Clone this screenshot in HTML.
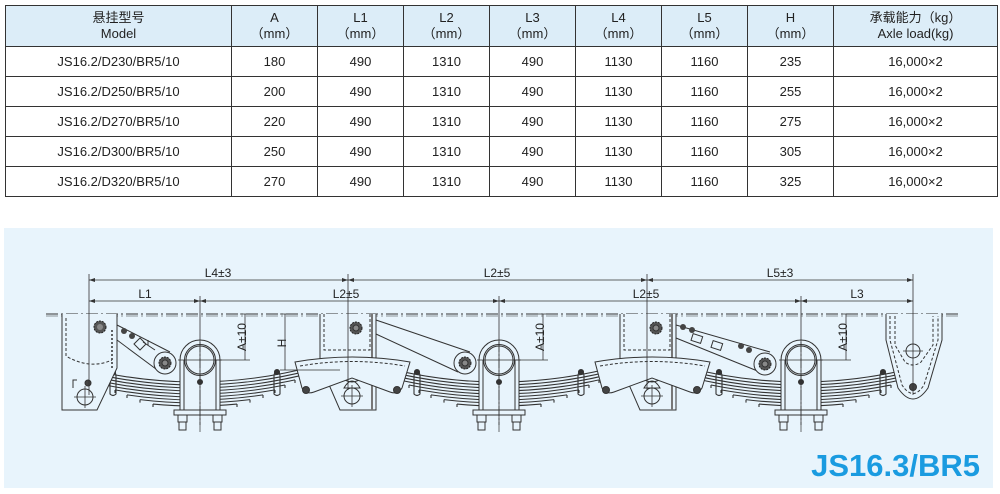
<!DOCTYPE html>
<html><head><meta charset="utf-8"><style>
body{margin:0;width:1000px;height:494px;background:#fff;position:relative;overflow:hidden;font-family:"Liberation Sans","Noto Sans CJK SC",sans-serif;}
table{position:absolute;left:5px;top:5px;border-collapse:collapse;font-size:13px;color:#222;}
td{border:1.5px solid #333;text-align:center;padding:0;height:29px;}
tr.h td{background:#dcedf8;height:40px;line-height:16px;}
#panel{position:absolute;left:4px;top:228px;width:989px;height:260px;background:#e8f4fc;}
svg{position:absolute;left:0;top:0;}
.t{font-family:"Liberation Sans",sans-serif;font-size:12px;fill:#222;}
</style></head><body>
<table>
<colgroup><col style="width:226px"><col style="width:86px"><col style="width:86px"><col style="width:86px"><col style="width:86px"><col style="width:86px"><col style="width:86px"><col style="width:86px"><col style="width:164px"></colgroup>
<tr class="h"><td>悬挂型号<br>Model</td><td>A<br>（mm）</td><td>L1<br>（mm）</td><td>L2<br>（mm）</td><td>L3<br>（mm）</td><td>L4<br>（mm）</td><td>L5<br>（mm）</td><td>H<br>（mm）</td><td>承载能力（kg）<br>Axle load(kg)</td></tr>
<tr><td>JS16.2/D230/BR5/10</td><td>180</td><td>490</td><td>1310</td><td>490</td><td>1130</td><td>1160</td><td>235</td><td>16,000×2</td></tr>
<tr><td>JS16.2/D250/BR5/10</td><td>200</td><td>490</td><td>1310</td><td>490</td><td>1130</td><td>1160</td><td>255</td><td>16,000×2</td></tr>
<tr><td>JS16.2/D270/BR5/10</td><td>220</td><td>490</td><td>1310</td><td>490</td><td>1130</td><td>1160</td><td>275</td><td>16,000×2</td></tr>
<tr><td>JS16.2/D300/BR5/10</td><td>250</td><td>490</td><td>1310</td><td>490</td><td>1130</td><td>1160</td><td>305</td><td>16,000×2</td></tr>
<tr><td>JS16.2/D320/BR5/10</td><td>270</td><td>490</td><td>1310</td><td>490</td><td>1130</td><td>1160</td><td>325</td><td>16,000×2</td></tr>
</table>
<div id="panel"></div>
<svg width="1000" height="494" viewBox="0 0 1000 494">
<defs>
<g id="spring" fill="none" stroke="#333" stroke-width="1.1">
<path d="M-120,-16 Q0,16 120,-16"/><path d="M-115,-11.7 Q0,17.7 115,-11.7"/><path d="M-108,-6.96 Q0,18.96 108,-6.96"/><path d="M-100,-2.11 Q0,20.11 100,-2.11"/><path d="M-90,3 Q0,21 90,3"/><path d="M-80,7.89 Q0,22.11 80,7.89"/><path d="M-68,12.86 Q0,23.14 68,12.86"/><path d="M-55,17.64 Q0,24.36 55,17.64"/><path d="M-42,22.04 Q0,25.96 42,22.04"/>
<path d="M-120,-16 L-120,-13 M-115,-11.7 v3 M-108,-7 v3 M-100,-2 v3 M-90,3 v3 M-80,8 v3 M-68,13 v3 M-55,17.6 v3 M-42,22 v3 M120,-16 v3 M115,-11.7 v3 M108,-7 v3 M100,-2 v3 M90,3 v3 M80,8 v3 M68,13 v3 M55,17.6 v3 M42,22 v3"/>
<path d="M-82,-10 q-3,0 -3,4 v18 q3,3 6,0 v-18 q0,-4 -3,-4 M82,-10 q3,0 3,4 v18 q-3,3 -6,0 v-18 q0,-4 3,-4"/>
<circle cx="-82" cy="-10" r="2.5" fill="#333"/><circle cx="82" cy="-10" r="2.5" fill="#333"/>
</g>
<g id="axle" fill="none" stroke="#333" stroke-width="1">
<path d="M-20,30 V-22 A20,20 0 0 1 20,-22 V30" fill="#e8f4fc"/>
<circle cx="0" cy="-22" r="14"/><circle cx="0" cy="-22" r="15.5"/>
<path d="M-16,-22 V30 M16,-22 V30"/>
<rect x="-26" y="28" width="52" height="5" fill="#e8f4fc"/>
<rect x="-22" y="33" width="9" height="7"/><rect x="-21" y="40" width="7" height="8"/>
<rect x="13" y="33" width="9" height="7"/><rect x="14" y="40" width="7" height="8"/>
<path d="M0,-40 V50" stroke-dasharray="10,2,2,2" stroke-width="0.7"/>
<path d="M-22,-22 H22" stroke-width="0.7"/>
<circle cx="0" cy="0" r="2.5" fill="#333"/>
</g>
<g id="bolt"><circle r="6" fill="#555" stroke="#222" stroke-width="1" stroke-dasharray="2,1"/><circle r="3" fill="#888"/></g>
<g id="bush" fill="none" stroke="#333" stroke-width="1"><circle r="11" fill="#e8f4fc"/><use href="#bolt"/></g>
<g id="eq" fill="#e8f4fc" stroke="#333" stroke-width="1">
<path d="M-57,-8 Q0,-18 58,-8 L50,18 Q46,25 38,22 L0,8 L-38,22 Q-46,25 -50,18 Z"/>
<path d="M-52,-4 Q0,-13 53,-4" fill="none" stroke-dasharray="3,2"/>
<circle cx="-46" cy="20" r="3.5" fill="#444"/><circle cx="45" cy="20" r="3.5" fill="#444"/>
</g>
<g id="mid" fill="none" stroke="#333" stroke-width="1">
<path d="M0,0 V50 L20,96 H56 V0" fill="#e8f4fc"/>
<path d="M4,0 V36 H50 V0" stroke-dasharray="3,2"/>
<path d="M52,0 V96" stroke-width="2" stroke="#777"/>
<circle cx="32" cy="82" r="8"/><path d="M21,82 H43 M32,71 V93" stroke-width="0.8"/>
<circle cx="32" cy="56" r="12" fill="#e8f4fc"/><circle cx="32" cy="56" r="7"/><circle cx="32" cy="56" r="2.5" fill="#333"/>
<path d="M24,74 q8,-14 16,0 Z"/>
<use href="#bolt" x="36" y="14"/>
</g>
</defs>

<path d="M46,314 H958" stroke="#333" stroke-width="1" stroke-dasharray="12,3,2,3" fill="none"/>
<path d="M46,316 H958" stroke="#333" stroke-width="0.6" stroke-dasharray="12,3,2,3" fill="none"/>

<use href="#spring" x="195" y="382"/>
<use href="#spring" x="499" y="382"/>
<use href="#spring" x="801" y="382"/>

<g fill="none" stroke="#333" stroke-width="1">
<path d="M62,314 V410 H97 L117,368 V314" fill="#e8f4fc"/>
<path d="M66,318 V356 Q90,370 112,360" stroke-dasharray="3,2"/>
<path d="M112,330 V370" stroke-dasharray="2,2" stroke-width="1.5"/>
<circle cx="85" cy="397" r="8"/><path d="M74,397 H96 M85,386 V408" stroke-width="0.8"/>
<path d="M77,380 h-4 v8"/>
<circle cx="88" cy="383" r="3" fill="#444"/>
</g>
<use href="#bolt" x="100" y="327"/>
<g fill="none" stroke="#333" stroke-width="1">
<path d="M117,325 L170,352 M117,340 L160,372"/>
</g>
<circle cx="124" cy="331" r="3" fill="#444"/><circle cx="132" cy="336" r="3" fill="#444"/>
<path d="M134,344 l6,-6 l6,6 l-6,6 Z M143,342 l12,8 M148,345 v-5" stroke="#333" fill="none"/>
<use href="#bush" x="165" y="363"/>
<use href="#axle" x="200" y="382"/>

<use href="#mid" x="320" y="314"/>
<use href="#eq" x="352" y="370"/>
<g fill="none" stroke="#333" stroke-width="1"><path d="M376,320 L470,352 M376,334 L458,372"/></g>
<use href="#bush" x="465" y="363"/>
<use href="#axle" x="499" y="382"/>

<use href="#mid" x="620" y="314"/>
<use href="#eq" x="652" y="370"/>
<g fill="none" stroke="#333" stroke-width="1"><path d="M676,325 L770,352 M676,338 L760,372"/>
<rect x="692" y="335" width="10" height="7" transform="rotate(18 697 338)"/><rect x="712" y="342" width="10" height="7" transform="rotate(18 717 345)"/></g>
<circle cx="683" cy="327" r="3" fill="#444"/><circle cx="692" cy="330" r="3" fill="#444"/>
<circle cx="741" cy="346" r="3" fill="#444"/><circle cx="749" cy="350" r="3" fill="#444"/>
<use href="#bush" x="765" y="364"/>
<use href="#axle" x="801" y="382"/>

<g fill="none" stroke="#333" stroke-width="1">
<path d="M886,314 V340 L898,388 Q913,410 928,388 L942,340 V314" fill="#e8f4fc"/>
<path d="M890,316 V340 L902,385 Q913,402 924,385 L938,340 V316" stroke-dasharray="3,2"/>
<path d="M895,316 V345 L905,362 Q913,368 921,362 L933,345 V316" stroke-dasharray="3,2"/>
<circle cx="913" cy="351" r="7"/><path d="M903,351 H923" stroke-width="0.8"/>
<circle cx="913" cy="387" r="3.5" fill="#444"/>
</g>

<g stroke="#333" stroke-width="0.8" fill="none">
<path d="M89,280 H913 M89,301 H913"/>
<path d="M89,274 V395 M200,296 V425 M348,274 V390 M499,296 V425 M647,274 V390 M801,296 V425 M913,274 V395"/>
<path d="M245,314 V360 M240,314 H250 M214,360 H250"/>
<path d="M285,314 V370 M280,314 H290 M280,370 H340"/>
<path d="M543,314 V360 M538,314 H548 M513,360 H548"/>
<path d="M846,314 V360 M841,314 H851 M815,360 H851"/>
</g>
<g fill="#333">
<path d="M89,280 l6,-2 v4 Z M913,280 l-6,-2 v4 Z M89,301 l6,-2 v4 Z M913,301 l-6,-2 v4 Z"/>
<path d="M348,280 l-6,-2 v4 Z M348,280 l6,-2 v4 Z M647,280 l-6,-2 v4 Z M647,280 l6,-2 v4 Z"/>
<path d="M200,301 l-6,-2 v4 Z M200,301 l6,-2 v4 Z M499,301 l-6,-2 v4 Z M499,301 l6,-2 v4 Z M801,301 l-6,-2 v4 Z M801,301 l6,-2 v4 Z"/>
</g>
<text class="t" x="218" y="277" text-anchor="middle">L4±3</text>
<text class="t" x="145" y="298" text-anchor="middle">L1</text>
<text class="t" x="346" y="298" text-anchor="middle">L2±5</text>
<text class="t" x="497" y="277" text-anchor="middle">L2±5</text>
<text class="t" x="646" y="298" text-anchor="middle">L2±5</text>
<text class="t" x="780" y="277" text-anchor="middle">L5±3</text>
<text class="t" x="857" y="298" text-anchor="middle">L3</text>
<text class="t" transform="translate(246,337) rotate(-90)" text-anchor="middle">A±10</text>
<text class="t" transform="translate(286,343) rotate(-90)" text-anchor="middle">H</text>
<text class="t" transform="translate(544,337) rotate(-90)" text-anchor="middle">A±10</text>
<text class="t" transform="translate(847,337) rotate(-90)" text-anchor="middle">A±10</text>
<text x="980" y="476" text-anchor="end" font-family="Liberation Sans, sans-serif" font-weight="bold" font-size="31" fill="#1a9be0">JS16.3/BR5</text>
</svg>
</body></html>
